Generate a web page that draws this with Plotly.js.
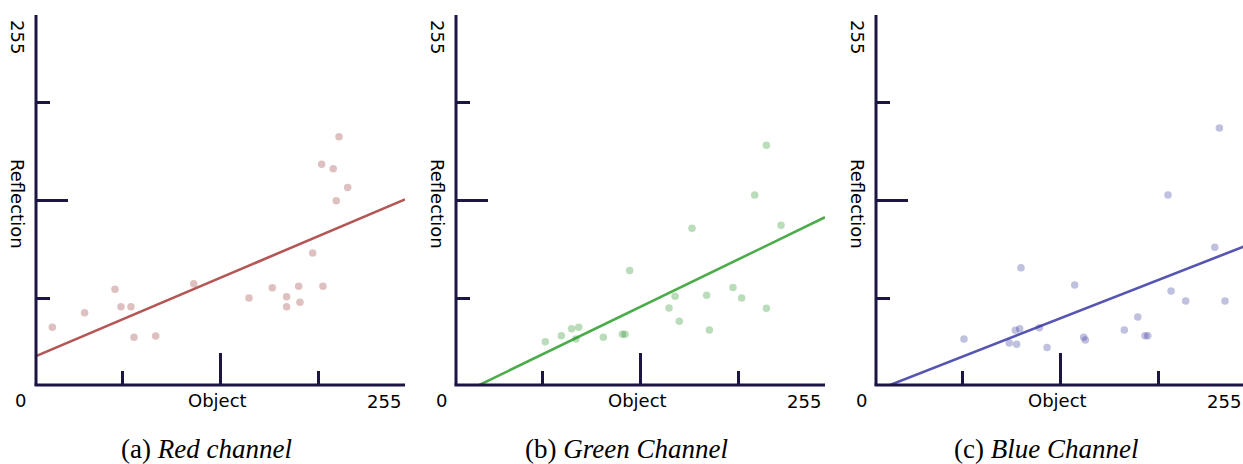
<!DOCTYPE html>
<html>
<head>
<meta charset="utf-8">
<script src="https://cdn.plot.ly/plotly-3.0.1.min.js"></script>
<style>html,body{margin:0;padding:0;background:#fff;}#chart{width:1243px;height:464px;}</style>
</head>
<body>
<div id="chart"></div>
<script>
// ---- data ----
const redX   = [11.3,33.6,54.6,58.7,65.6,67.7,82.7,109.0,147.2,163.3,173.2,173.2,181.5,182.4,191.2,198.3,197.4,205.4,207.5,209.4,215.4];
const redY   = [39.9,50.0,66.1,54.1,54.1,33.0,33.9,70.0,60.1,67.2,61.0,54.1,68.2,57.1,91.2,68.2,152.5,149.5,127.4,171.6,136.4];
const greenX = [61.7,72.8,79.9,84.8,82.9,101.8,115.0,116.8,120.0,147.2,151.4,154.3,163.1,173.2,175.1,191.4,197.4,206.4,214.5,214.5,224.6];
const greenY = [29.9,34.1,38.9,39.9,31.8,33.0,35.0,35.0,79.2,53.2,61.3,44.0,108.3,62.0,38.0,67.3,60.1,131.3,165.6,53.0,110.4];
const blueX  = [60.8,92.1,96.3,99.3,97.2,100.2,112.9,118.2,137.3,143.5,144.7,171.6,180.9,185.9,187.8,201.8,203.9,214.0,234.1,237.3,241.2];
const blueY  = [31.8,29.0,37.8,38.9,28.1,81.1,39.6,26.0,69.1,33.0,31.1,38.0,47.0,34.1,34.1,131.3,65.0,58.1,95.2,177.6,58.1];
// fitted line: value at x = 0 and at x = 255
const fitX      = [0, 255];
const redFit    = [20.0, 128.3];
const greenFit  = [-7.8, 115.9];
const blueFit   = [-3.8, 96.0];
const majorTicks = [127.5, 255];
const minorTicks = [59.5, 195];
const cornerLabel = '0';
const endLabel = '255';
const xTitle = 'Object';
const yTitle = 'Reflection';
const captions = ['(a) <i>Red channel</i>', '(b) <i>Green Channel</i>', '(c) <i>Blue Channel</i>'];

// ---- layout ----
const W = 1243, H = 464;
const origins = [36, 456, 876];
const side = 369;
const plotTop = 16, plotBottom = 385;
const axisColor = '#1b1742';
const lineColors = ['rgb(180,86,86)', 'rgb(76,172,76)', 'rgb(86,86,178)'];
const markColors = ['rgb(150,45,45)', 'rgb(30,140,30)', 'rgb(45,45,150)'];
const xs = [redX, greenX, blueX], ys = [redY, greenY, blueY], fits = [redFit, greenFit, blueFit];

const traces = [];
const layout = {
  width: W, height: H,
  margin: {l: 0, r: 0, t: 0, b: 0},
  paper_bgcolor: '#fff', plot_bgcolor: 'rgba(0,0,0,0)',
  showlegend: false,
  annotations: [],
  shapes: [],
  font: {family: 'DejaVu Sans', size: 18, color: '#000'}
};
const px = v => v / W, py = v => 1 - v / H;

for (let i = 0; i < 3; i++) {
  const sfx = i === 0 ? '' : String(i + 1);
  const o = origins[i];
  const right = Math.min(o + side, W);
  const xmax = 255 * (right - o) / side;
  traces.push({x: fitX, y: fits[i], xaxis: 'x' + sfx, yaxis: 'y' + sfx, mode: 'lines',
    line: {color: lineColors[i], width: 2.6}, hoverinfo: 'skip'});
  traces.push({x: xs[i], y: ys[i], xaxis: 'x' + sfx, yaxis: 'y' + sfx, mode: 'markers',
    marker: {color: markColors[i], opacity: 0.3, size: 7.5, line: {width: 0}}});
  const common = {
    showline: false,
    showgrid: false, zeroline: false, showticklabels: false,
    ticks: 'inside', tickmode: 'array', tickvals: majorTicks, ticklen: 32, tickwidth: 3, tickcolor: axisColor,
    minor: {ticks: 'inside', tickmode: 'array', tickvals: minorTicks, ticklen: 14, tickwidth: 3, tickcolor: axisColor, showgrid: false},
    fixedrange: true
  };
  layout['xaxis' + sfx] = Object.assign({}, common, {
    domain: [px(o), px(right)], range: [0, xmax], anchor: 'y' + sfx
  });
  layout['yaxis' + sfx] = Object.assign({}, common, {
    domain: [py(plotBottom), py(plotTop)], range: [0, 255], anchor: 'x' + sfx
  });
  // axis lines
  layout.shapes.push({type: 'line', xref: 'paper', yref: 'paper', layer: 'above',
    x0: px(o - 1.5), x1: px(right), y0: py(plotBottom), y1: py(plotBottom),
    line: {color: axisColor, width: 3}});
  layout.shapes.push({type: 'line', xref: 'paper', yref: 'paper', layer: 'above',
    x0: px(o), x1: px(o), y0: py(plotBottom), y1: py(plotTop - 1),
    line: {color: axisColor, width: 3}});
  const ann = (text, x, y, extra) => layout.annotations.push(Object.assign({
    text, x: px(x), y: py(y), xref: 'paper', yref: 'paper', showarrow: false,
    xanchor: 'center', yanchor: 'middle', font: {family: 'DejaVu Sans', size: 18, color: '#000'}
  }, extra || {}));
  ann(cornerLabel, o - 15, 400);
  ann(xTitle, o + 181, 400);
  ann(endLabel, o + 348, 401);
  ann(endLabel, o - 18, 37, {textangle: 90});
  ann(yTitle, o - 18, 204, {textangle: 90});
  ann(captions[i], o + 170, 449, {font: {family: 'Liberation Serif', size: 27, color: '#000'}});
}

Plotly.newPlot('chart', traces, layout, {staticPlot: true, displayModeBar: false});
</script>
</body>
</html>
